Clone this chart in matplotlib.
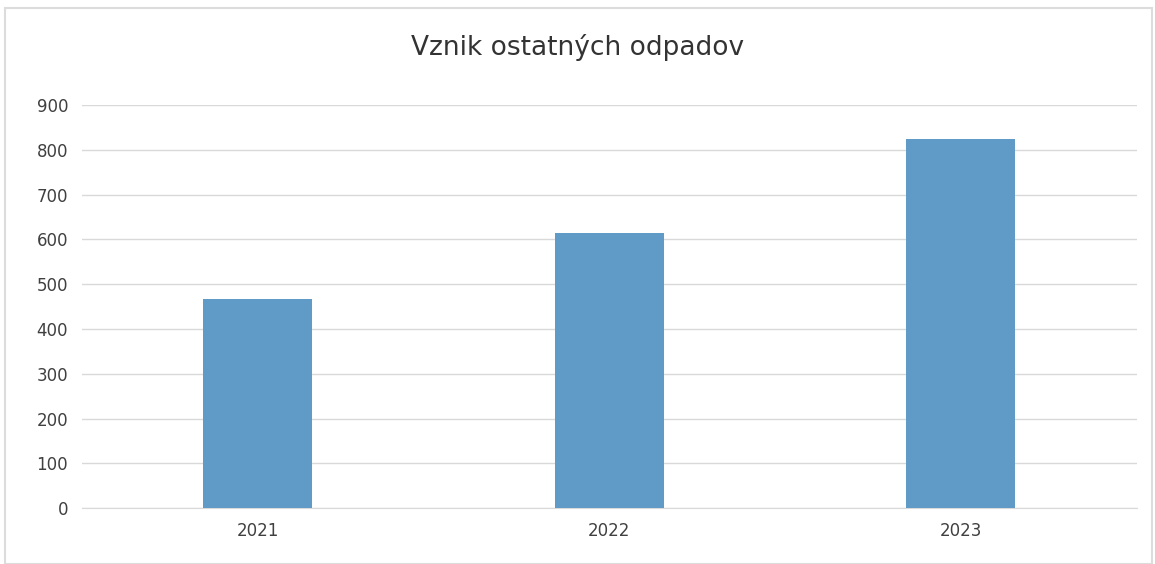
import matplotlib.pyplot as plt
from matplotlib.patches import Rectangle

roky = ['2021', '2022', '2023']
hodnoty = [467, 614, 824]
y_ticky = [0, 100, 200, 300, 400, 500, 600, 700, 800, 900]

fig = plt.figure(figsize=(11.55, 5.64), dpi=100)
fig.patches.append(Rectangle((0.004, 0.0), 0.993, 0.985, transform=fig.transFigure,
                             fill=False, edgecolor='#dcdcdc', linewidth=1.5))
ax = fig.add_axes([0.071, 0.099, 0.913, 0.715])

x = range(len(roky))
ax.bar(x, hodnoty, width=0.31, color='#5f9bc6', zorder=3)

ax.set_ylim(0, 900)
ax.set_xlim(-0.5, 2.5)
ax.set_yticks(y_ticky)
ax.set_xticks(list(x))
ax.set_xticklabels(roky)
ax.grid(axis='y', color='#d9d9d9', linewidth=1, zorder=0)
for s in ['top', 'right', 'left']:
    ax.spines[s].set_visible(False)
ax.spines['bottom'].set_color('#d9d9d9')
ax.tick_params(length=0, labelsize=12, colors='#404040', pad=10)

fig.text(0.5, 0.915, 'Vznik ostatných odpadov', ha='center', va='center',
         fontsize=19, color='#333333')

fig.savefig('out.png', dpi=100)
